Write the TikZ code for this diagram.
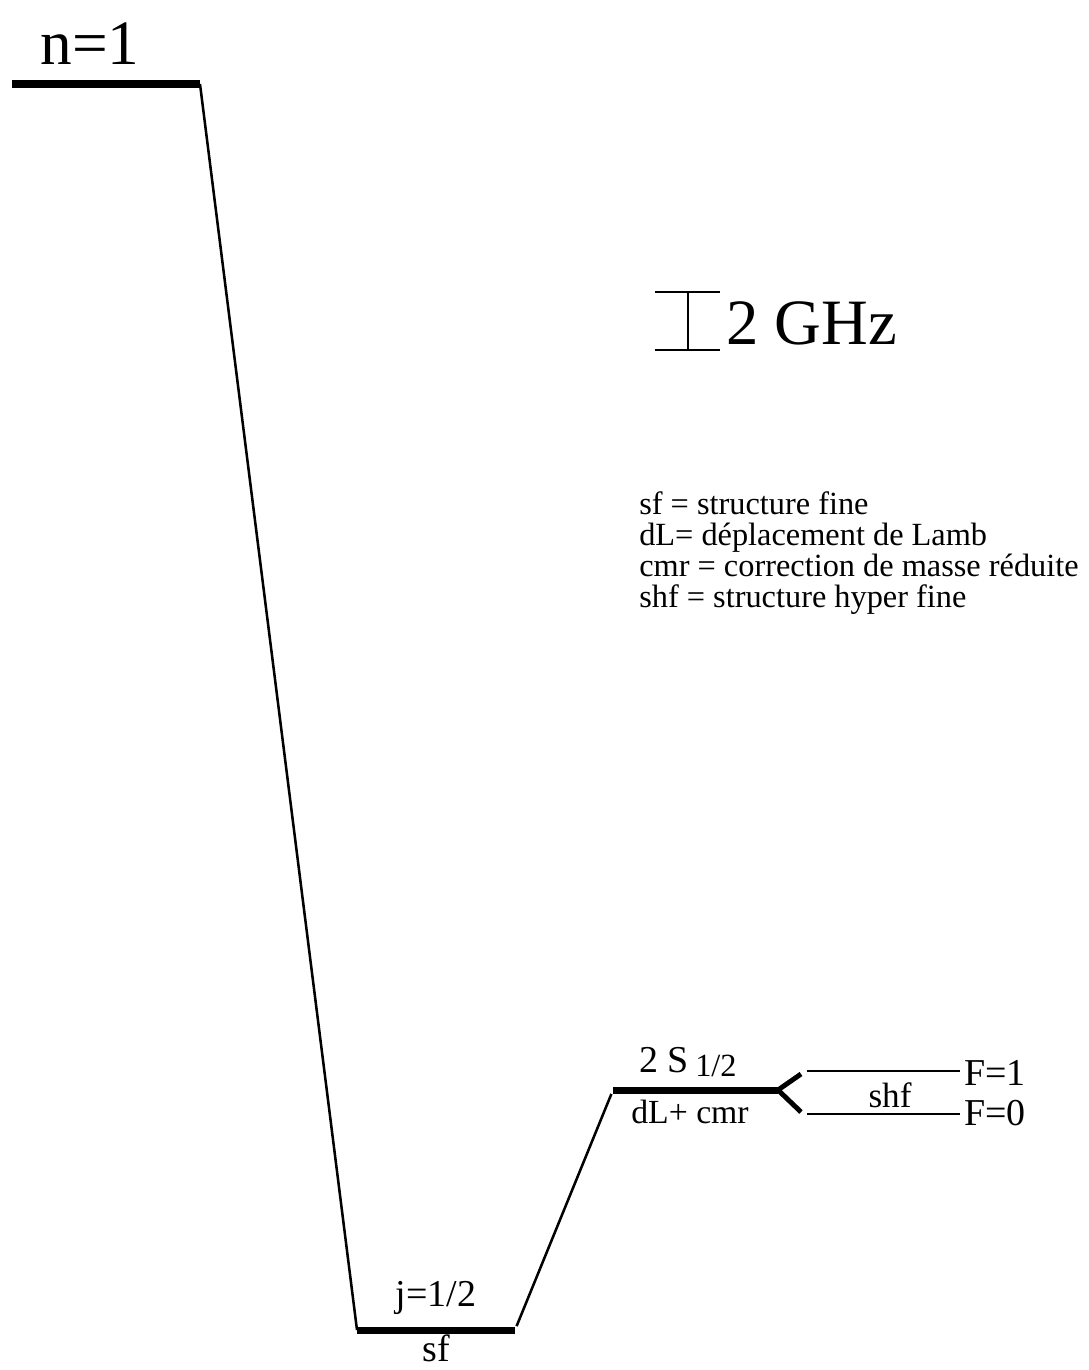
\documentclass[tikz,border=0pt]{standalone}
\usepackage{fontspec}
\setmainfont{Liberation Serif}
\usetikzlibrary{positioning}

\begin{document}
\begin{tikzpicture}[x=0.025cm, y=-0.025cm,
  level/.style={line width=5pt},
  fork/.style={line width=3.5pt},
  trans/.style={line width=1.8pt},
  lab/.style={inner sep=0pt, font=\fontsize{27}{30}\selectfont},
  big/.style={inner sep=0pt, font=\fontsize{45}{50}\selectfont},
  note/.style={inner sep=0pt, align=left, font=\fontsize{23}{22.2}\selectfont}
]
\useasboundingbox (0,0) rectangle (1088,1370);

% level end points
\coordinate (n1a) at (12,84);
\coordinate (n1b) at (200,84);
\coordinate (ja) at (357,1330);
\coordinate (jb) at (515,1330);
\coordinate (sa) at (613,1090);
\coordinate (sb) at (778,1090);
\coordinate (fk1) at (801,1074);
\coordinate (fk0) at (801,1112);
\coordinate (f1a) at (807,1071);
\coordinate (f1b) at (960,1071);
\coordinate (f0a) at (807,1114);
\coordinate (f0b) at (960,1114);

% levels
\draw[level] (n1a) -- (n1b);
\draw[level] (ja) -- (jb);
\draw[level] (sa) -- (sb);
\draw[trans] (f1a) -- (f1b);
\draw[trans] (f0a) -- (f0b);

% shifts
\draw[trans] (n1b) -- (ja);
\draw[trans, shorten <=3pt, shorten >=3pt] (jb) -- (sa);
\draw[fork] (sb) -- (fk1);
\draw[fork] (sb) -- (fk0);

% labels
\node[big] (n1) at (90,44) {n=1};
\node[lab] (jlab) at (436,1298) {j=1/2};
\node[lab] (sflab) at (436,1348) {sf};
\node[lab] (slab) at (688,1062) {2 S\,\raisebox{-0.25ex}{\fontsize{23}{26}\selectfont 1/2}};
\node[lab, font=\fontsize{24}{27}\selectfont] (dllab) at (690,1112) {dL+ cmr};
\node[lab, font=\fontsize{25}{28}\selectfont] (shflab) at (890,1095) {shf};
\node[lab, anchor=west] (f1lab) at (964,1073) {F=1};
\node[lab, anchor=west] (f0lab) at (964,1113) {F=0};

% scale bar
\coordinate (bt1) at (655,292);
\coordinate (bt2) at (720,292);
\coordinate (bb1) at (655,350);
\coordinate (bb2) at (720,350);
\coordinate (bt) at (688,292);
\coordinate (bb) at (688,350);
\draw[trans] (bt1) -- (bt2);
\draw[trans] (bb1) -- (bb2);
\draw[trans] (bt) -- (bb);
\node[inner sep=0pt, anchor=west, font=\fontsize{46}{50}\selectfont] (ghz) at (726,323) {2 GHz};

% legend
\node[note, anchor=north west] (legend) at (639,491) {sf = structure fine\\
dL= déplacement de Lamb\\
cmr = correction de masse réduite\\
shf = structure hyper fine};
\end{tikzpicture}
\end{document}
